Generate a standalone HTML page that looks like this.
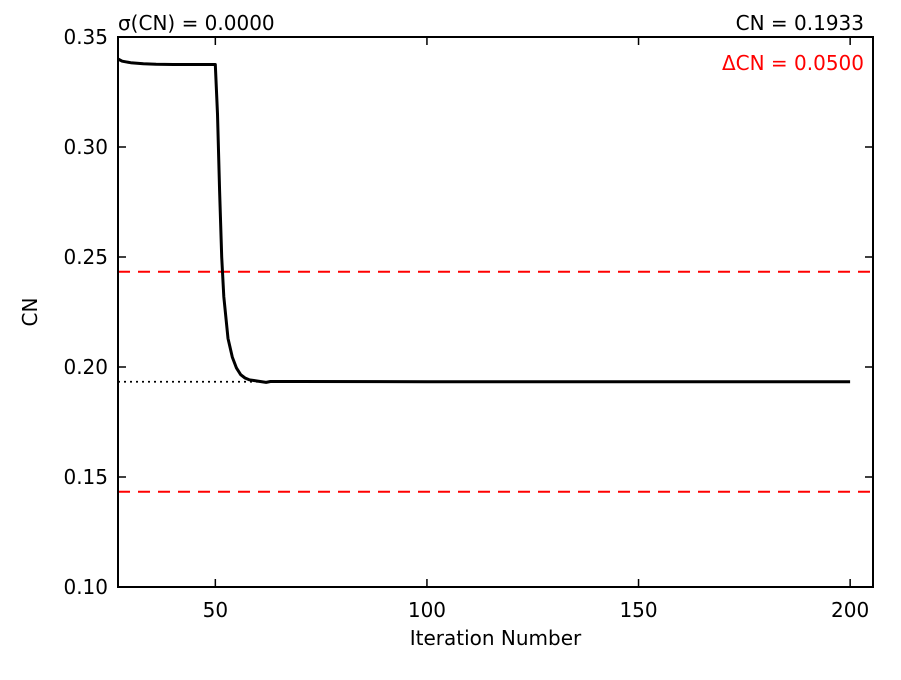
<!DOCTYPE html>
<html><head><meta charset="utf-8"><style>
body{margin:0;background:#fff}
svg{font-family:"DejaVu Sans","Liberation Sans",sans-serif}
</style></head><body>
<svg id="c" width="901" height="675"></svg>
<script>
const iterations=[27,28,30,33,36,40,45,50,50.5,51,51.5,52,53,54,55,56,57,58,60,62,63,70,100,150,200];
const cnValues=[0.3400,0.3390,0.3383,0.3378,0.3376,0.3375,0.3375,0.3375,0.315,0.280,0.250,0.232,0.213,0.2045,0.1995,0.1965,0.1950,0.1942,0.1936,0.1930,0.1934,0.1934,0.1933,0.1933,0.1933];
const xTicks=[50,100,150,200];
const yTicks=[0.10,0.15,0.20,0.25,0.30,0.35];
const cnMean=0.1933, deltaCN=0.05, sigmaCN=0.0;
const NS="http://www.w3.org/2000/svg";
const L=118,R=873,T=37,B=587,X0=27,X1=205.4,Y0=0.10,Y1=0.35;
const sx=v=>L+(v-X0)/(X1-X0)*(R-L);
const sy=v=>B-(v-Y0)/(Y1-Y0)*(B-T);
const svg=document.getElementById('c');
function mk(t,a,txt){const e=document.createElementNS(NS,t);for(const k in a)e.setAttribute(k,a[k]);if(txt!=null)e.textContent=txt;svg.appendChild(e);return e;}
let e;
e=mk('line',{x1:L,x2:R,y1:sy(cnMean+deltaCN),y2:sy(cnMean+deltaCN),stroke:'#f00','stroke-width':2,'stroke-dasharray':'12,8'});


e=mk('line',{x1:L,x2:R,y1:sy(cnMean-deltaCN),y2:sy(cnMean-deltaCN),stroke:'#f00','stroke-width':2,'stroke-dasharray':'12,8'});


e=mk('line',{x1:L,x2:sx(60),y1:sy(cnMean),y2:sy(cnMean),stroke:'#000','stroke-width':1.8,'stroke-dasharray':'2,4'});


const pts=iterations.map((x,i)=>sx(x).toFixed(1)+','+sy(cnValues[i]).toFixed(1)).join(' ');
e=mk('polyline',{points:pts,fill:'none',stroke:'#000','stroke-width':3,'stroke-linejoin':'round'});


e=mk('rect',{x:L,y:T,width:R-L,height:B-T,fill:'none',stroke:'#000','stroke-width':2});


xTicks.forEach(v=>{
  e=mk('line',{x1:sx(v),x2:sx(v),y1:B,y2:B-8,stroke:'#000','stroke-width':1.5});
  
  
  e=mk('line',{x1:sx(v),x2:sx(v),y1:T,y2:T+8,stroke:'#000','stroke-width':1.5});
  
  
  e=mk('text',{x:sx(v),y:B+30,'text-anchor':'middle','font-size':20},String(v));
  
  
});
yTicks.forEach(v=>{
  e=mk('line',{x1:L,x2:L+8,y1:sy(v),y2:sy(v),stroke:'#000','stroke-width':1.5});
  
  
  e=mk('line',{x1:R,x2:R-8,y1:sy(v),y2:sy(v),stroke:'#000','stroke-width':1.5});
  
  
  e=mk('text',{x:L-10,y:sy(v)+7,'text-anchor':'end','font-size':20},v.toFixed(2));
  
  
});
e=mk('text',{x:(L+R)/2,y:645,'text-anchor':'middle','font-size':20},'Iteration Number');


e=mk('text',{x:37,y:312,'text-anchor':'middle','font-size':20,transform:'rotate(-90 37 312)'},'CN');


e=mk('text',{x:118,y:30,'font-size':20},'σ(CN) = '+sigmaCN.toFixed(4));


e=mk('text',{x:864,y:30,'text-anchor':'end','font-size':20},'CN = '+cnMean.toFixed(4));


e=mk('text',{x:864,y:70,'text-anchor':'end','font-size':20,fill:'#f00'},'ΔCN = '+deltaCN.toFixed(4));


</script>
</body></html>
